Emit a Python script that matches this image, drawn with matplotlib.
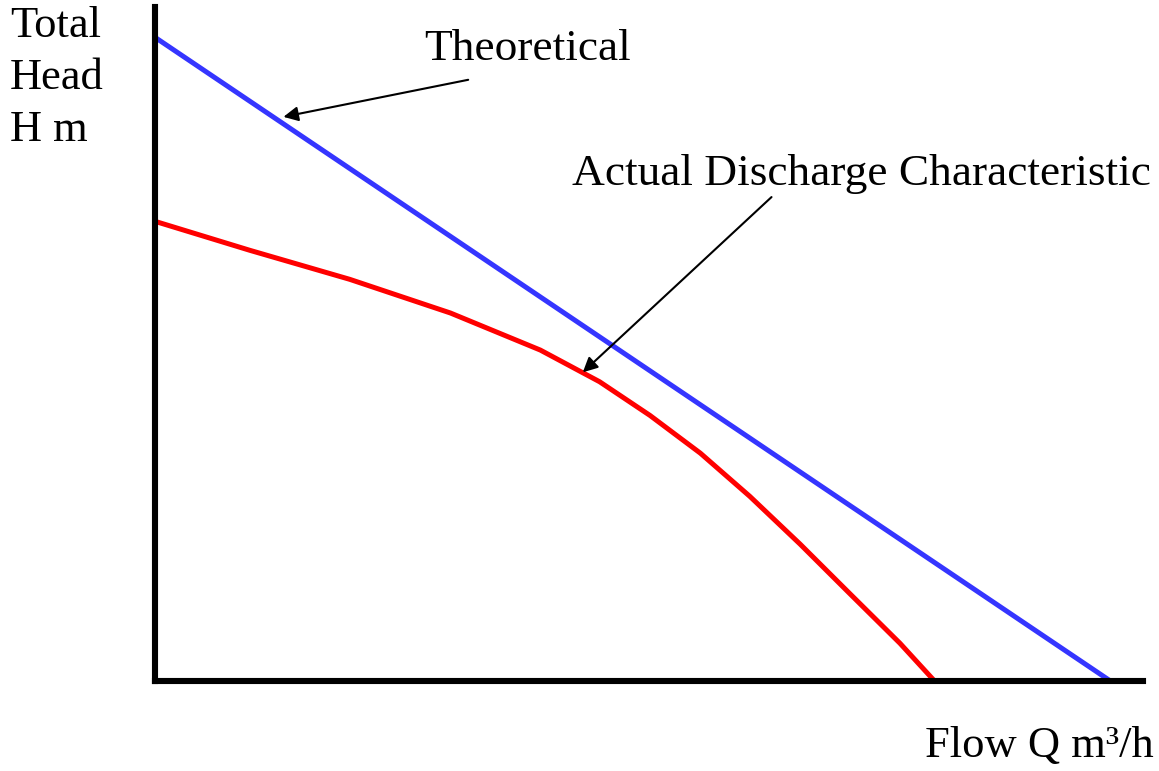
import matplotlib
matplotlib.use('Agg')
from matplotlib import pyplot as plt

# flow (m3/h) and head (m), schematic units
q_theory = [0.0, 96.7]
h_theory = [95.5, 0.0]

q_actual = [0.0, 9.6, 19.7, 29.9, 39.0, 45.0, 50.1, 55.2, 60.2, 65.3, 70.3, 75.4, 78.9]
h_actual = [68.2, 63.9, 59.6, 54.6, 49.1, 44.4, 39.4, 33.8, 27.4, 20.3, 13.0, 5.6, 0.0]

plt.rcParams['font.family'] = ['Liberation Serif', 'DejaVu Serif']

W, H = 1159, 771
fig = plt.figure(figsize=(W / 100, H / 100), dpi=100)
ax = fig.add_axes([155 / W, (H - 681) / H, 988 / W, 674 / H])
ax.set_xlim(0, 100)
ax.set_ylim(0, 100)

ax.plot(q_theory, h_theory, color='#3535ff', lw=3.6, solid_capstyle='butt')
ax.plot(q_actual, h_actual, color='#ff0000', lw=3.6, solid_capstyle='butt',
        solid_joinstyle='round')

ax.spines['top'].set_visible(False)
ax.spines['right'].set_visible(False)
for s in ('left', 'bottom'):
    ax.spines[s].set_linewidth(4.4)
    ax.spines[s].set_capstyle('projecting')
ax.set_xticks([])
ax.set_yticks([])

ax.annotate('', xy=(13.0, 83.7), xytext=(31.7, 89.2),
            arrowprops=dict(arrowstyle='-|>', color='black', lw=1.5,
                            mutation_scale=22, shrinkA=0, shrinkB=0))
ax.annotate('', xy=(43.3, 45.8), xytext=(62.4, 71.8),
            arrowprops=dict(arrowstyle='-|>', color='black', lw=1.5,
                            mutation_scale=22, shrinkA=0, shrinkB=0))

ax.text(27.2, 92.1, 'Theoretical', fontsize=32.7, va='baseline', ha='left')
ax.text(42.2, 73.6, 'Actual Discharge Characteristic', fontsize=32.7,
        va='baseline', ha='left')

for i, word in enumerate(['Total', 'Head', 'H m']):
    fig.text(10 / W, 1 - (37 + 52 * i) / H, word, fontsize=32,
             va='baseline', ha='left')
fig.text(925 / W, 1 - 757 / H, 'Flow Q m³/h', fontsize=32,
         va='baseline', ha='left')

plt.savefig('out.png', dpi=100)
